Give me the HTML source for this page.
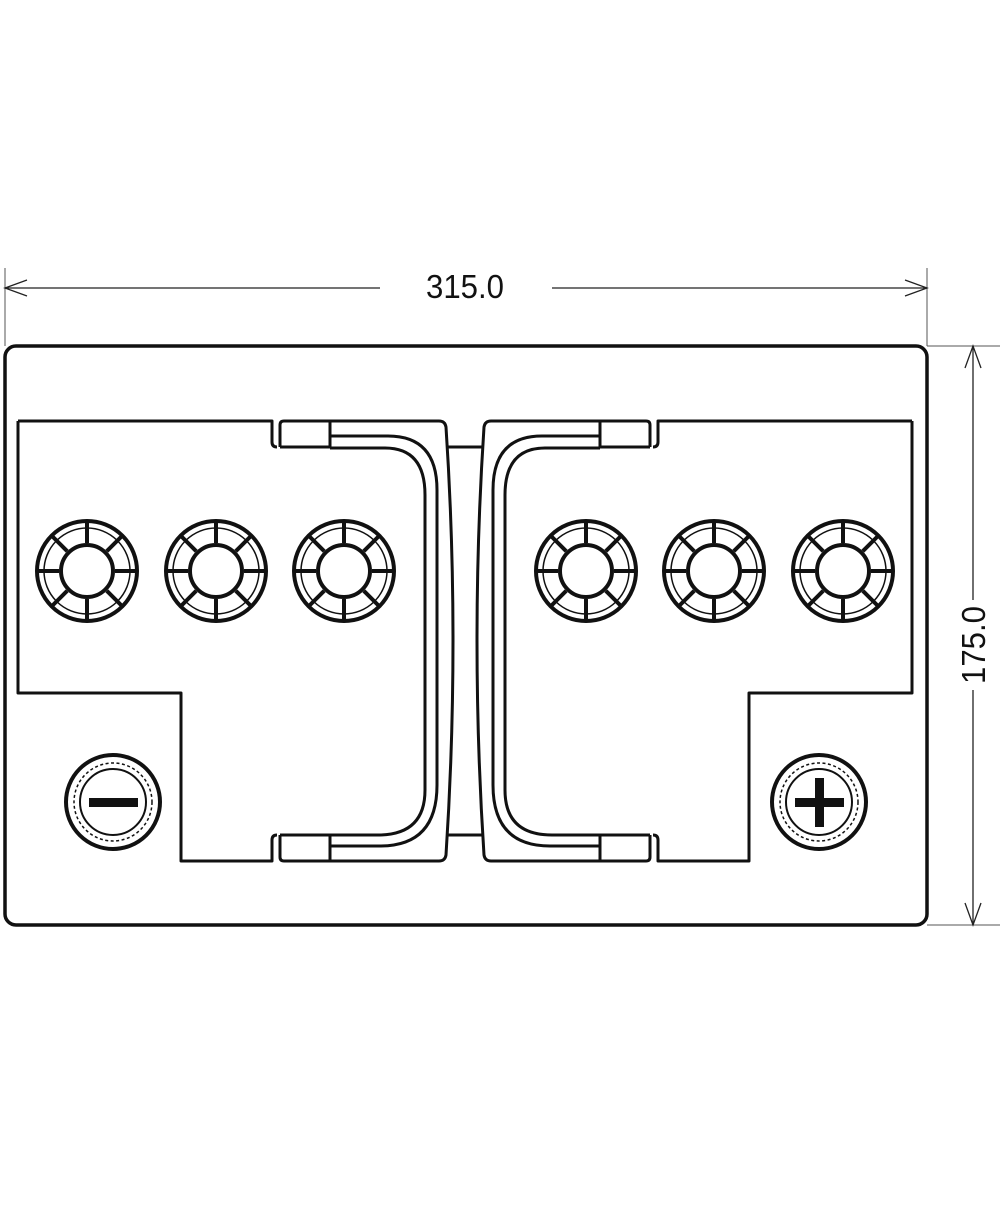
<!DOCTYPE html>
<html><head><meta charset="utf-8"><style>html,body{margin:0;padding:0;background:#fff}</style></head>
<body>
<svg width="1000" height="1200" viewBox="0 0 1000 1200" xmlns="http://www.w3.org/2000/svg">
<defs>
<g id="cap">
  <circle r="50" fill="none" stroke="#111" stroke-width="4"/>
  <circle r="43" fill="none" stroke="#111" stroke-width="1.5"/>
  <circle r="26" fill="none" stroke="#111" stroke-width="4"/>
  <g stroke="#111" stroke-width="4">
    <line x1="28" y1="0" x2="51" y2="0"/><line x1="-28" y1="0" x2="-51" y2="0"/>
    <line x1="0" y1="28" x2="0" y2="51"/><line x1="0" y1="-28" x2="0" y2="-51"/>
    <line x1="19.8" y1="19.8" x2="36" y2="36"/><line x1="-19.8" y1="19.8" x2="-36" y2="36"/>
    <line x1="19.8" y1="-19.8" x2="36" y2="-36"/><line x1="-19.8" y1="-19.8" x2="-36" y2="-36"/>
  </g>
</g>
<g id="half" fill="none" stroke="#111" stroke-width="3" stroke-linejoin="round">
  <path d="M18,421 H272 V442 Q272,447 277,447 M18,421 V693 H181 V861 H272 V840 Q272,835 277,835"/>
  <!-- top handle cap -->
  <path d="M280,447 Q280,447 280,425 Q280,421 284,421 H439 Q445,421 446,427 Q460,640 446,855 Q445,861 439,861 H284 Q280,861 280,857 V835"/>
  <line x1="280" y1="447" x2="330" y2="447"/>
  <line x1="330" y1="421" x2="330" y2="447"/>
  <line x1="330" y1="835" x2="330" y2="861"/>
  <path d="M330,436 H388 Q437,436 437,490 V785 Q437,846 380,846 H330"/>
  <path d="M330,448 H385 Q425,448 425,495 V790 Q425,835 378,835 H280"/>
  <line x1="448" y1="447" x2="465" y2="447"/>
  <line x1="448" y1="835" x2="465" y2="835"/>
  <use href="#cap" x="87" y="571"/>
  <use href="#cap" x="216" y="571"/>
  <use href="#cap" x="344" y="571"/>
</g>
<g id="term" fill="none" stroke="#111">
  <circle r="47" stroke-width="4"/>
  <circle r="39" stroke-width="1.5" stroke-dasharray="3,2.5"/>
  <circle r="33" stroke-width="2"/>
</g>
</defs>
<rect x="5" y="346" width="922" height="579" rx="11" fill="none" stroke="#111" stroke-width="3.5"/>
<use href="#half"/>
<use href="#half" transform="translate(930,0) scale(-1,1)"/>
<use href="#term" x="113" y="802"/>
<rect x="89" y="798" width="49" height="9" fill="#111"/>
<use href="#term" x="819" y="802"/>
<rect x="795" y="798" width="49" height="9" fill="#111"/>
<rect x="815" y="778" width="9" height="49" fill="#111"/>
<!-- dimensions -->
<g stroke="#555" stroke-width="1" fill="none">
  <line x1="5" y1="268" x2="5" y2="346"/>
  <line x1="927" y1="268" x2="927" y2="346"/>
  <line x1="927" y1="346" x2="1000" y2="346"/>
  <line x1="927" y1="925" x2="1000" y2="925"/>
</g>
<g stroke="#222" stroke-width="1.3" fill="none">
  <line x1="5" y1="288" x2="380" y2="288"/>
  <line x1="552" y1="288" x2="927" y2="288"/>
  <polyline points="27,280 5,288 27,296"/>
  <polyline points="905,280 927,288 905,296"/>
  <line x1="973" y1="346" x2="973" y2="600"/>
  <line x1="973" y1="690" x2="973" y2="925"/>
  <polyline points="965,368 973,346 981,368"/>
  <polyline points="965,903 973,925 981,903"/>
</g>
<text x="465" y="298" font-family="Liberation Sans, sans-serif" font-size="33" text-anchor="middle" textLength="78" lengthAdjust="spacingAndGlyphs" fill="#111">315.0</text>
<text transform="translate(985,645) rotate(-90)" font-family="Liberation Sans, sans-serif" font-size="33" text-anchor="middle" textLength="78" lengthAdjust="spacingAndGlyphs" fill="#111">175.0</text>
</svg>
</body></html>
